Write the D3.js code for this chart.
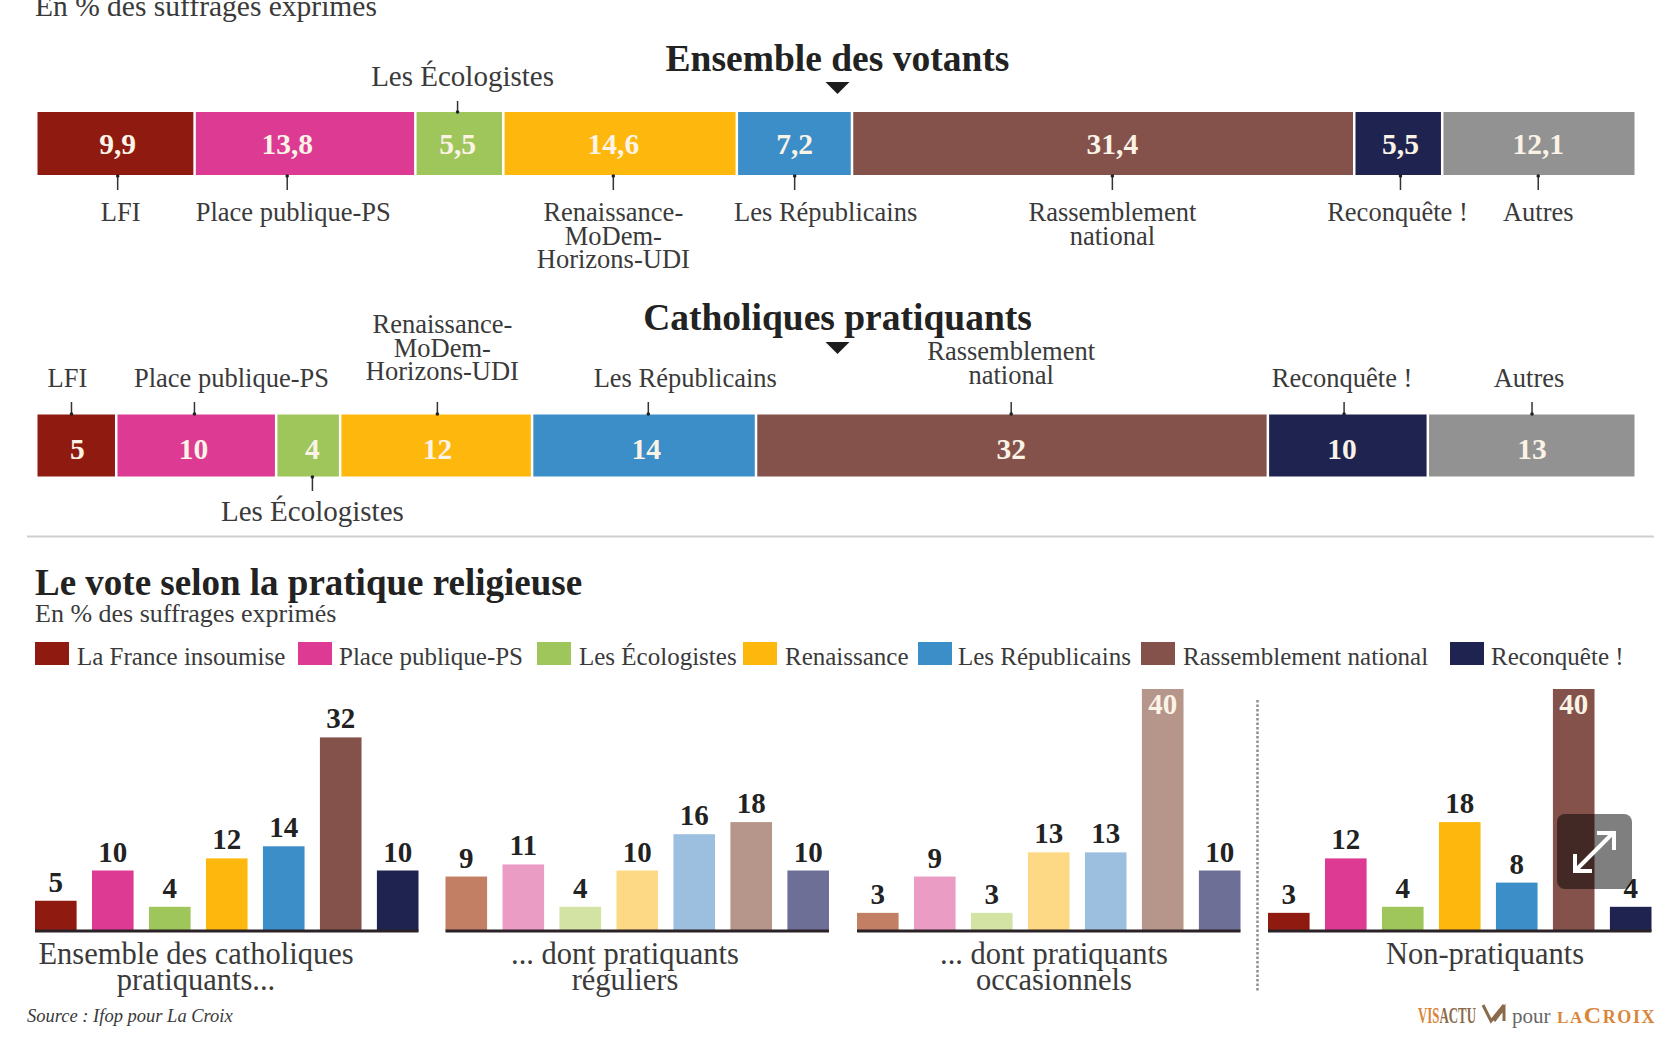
<!DOCTYPE html>
<html lang="fr">
<head>
<meta charset="utf-8">
<script src="https://cdnjs.cloudflare.com/ajax/libs/d3/7.8.5/d3.min.js"></script>
<style>
  body { margin: 0; background: #fff; }
  text { font-family: "Liberation Serif", serif; fill: #3a3a3a; }
  .title { font-weight: bold; fill: #222; }
  .value { font-weight: bold; }
</style>
</head>
<body>
<div id="chart"></div>
<script>
// data
const stackColors = ["#8f1a10", "#dc3a93", "#9fc65b", "#feb70d", "#3b8ec8", "#84524b", "#1f2350", "#929292"];
const lightColors = ["#c27f63", "#eb9cc4", "#d3e3a4", "#fdd985", "#9dbfdf", "#b6958b", "#6e6f97"];

const votantsValues = [9.9, 13.8, 5.5, 14.6, 7.2, 31.4, 5.5, 12.1];
const votantsText = ["9,9", "13,8", "5,5", "14,6", "7,2", "31,4", "5,5", "12,1"];
const catholiquesValues = [5, 10, 4, 12, 14, 32, 10, 13];

const votantsLabels = [["LFI"], ["Place publique-PS"], ["Les Écologistes"], ["Renaissance-", "MoDem-", "Horizons-UDI"],
  ["Les Républicains"], ["Rassemblement", "national"], ["Reconquête !"], ["Autres"]];
const catholiquesLabels = [["LFI"], ["Place publique-PS"], ["Les Écologistes"], ["Renaissance-", "MoDem-", "Horizons-UDI"],
  ["Les Républicains"], ["Rassemblement", "national"], ["Reconquête !"], ["Autres"]];

const legendNames = ["La France insoumise", "Place publique-PS", "Les Écologistes", "Renaissance", "Les Républicains", "Rassemblement national", "Reconquête !"];

const panelNames = [["Ensemble des catholiques", "pratiquants..."], ["... dont pratiquants", "réguliers"], ["... dont pratiquants", "occasionnels"], ["Non-pratiquants"]];
const panelEnsemble = [5, 10, 4, 12, 14, 32, 10];
const panelReguliers = [9, 11, 4, 10, 16, 18, 10];
const panelOccasionnels = [3, 9, 3, 13, 13, 40, 10];
const panelNonPratiquants = [3, 12, 4, 18, 8, 40, 4];

// layout: nudges against the segment centres, and label placement
const votantsTickShift = [1, -19, -3, -8, -1, 8, 1, -2];
const votantsLabelShift = [3, 6, 5, 0, 31, 0, -3, 0];
const votantsAbove = [false, false, true, false, false, false, false, false];
const cathValueShift = [0, -4, 3, 0, 1, -2, -7, -1];
const cathTickShift = [-6, -3, 3, 0, 3, -2, -5, -1];
const cathLabelShift = [-4, 37, 0, 5, 37, 0, -2, -3];
const cathBelow = [false, false, true, false, false, false, false, false];
const legendSquareX = [35, 298, 537, 743, 918, 1141, 1450];
const legendTextX = [77, 339, 579, 785, 958, 1183, 1491];
const panelX = [35, 445.5, 857, 1268];

const width = 1675, height = 1059;
const labelSize = 26.5;
const ecoSize = 29;

const svg = d3.select("#chart").append("svg")
    .attr("width", width)
    .attr("height", height)
    .style("display", "block");

const x = d3.scaleLinear().domain([0, 100]).range([37.5, 1637]);

function triangle(cx, top) {
  svg.append("path")
    .attr("d", `M${cx - 12},${top} H${cx + 12} L${cx},${top + 12} Z`)
    .attr("fill", "#1c1c1c");
}

function multiline(lines, cx, lastBaseline, lineHeight, size) {
  lines.forEach((line, i) => {
    svg.append("text")
      .attr("x", cx)
      .attr("y", lastBaseline - (lines.length - 1 - i) * lineHeight)
      .attr("text-anchor", "middle")
      .attr("font-size", size)
      .text(line);
  });
}

function drawStack(values, top, bottom, valueText, valueBaseline) {
  let sum = 0;
  const segs = values.map(v => {
    const s = { start: sum, end: sum + v };
    sum += v;
    return s;
  });

  const g = svg.append("g");
  g.selectAll("rect")
    .data(segs)
    .join("rect")
      .attr("x", d => x(d.start))
      .attr("y", top)
      .attr("width", d => x(d.end) - x(d.start) - 2.5)
      .attr("height", bottom - top)
      .attr("fill", (d, i) => stackColors[i]);

  g.selectAll("text")
    .data(segs)
    .join("text")
      .attr("class", "value")
      .attr("x", (d, i) => (x(d.start) + x(d.end)) / 2 + valueText.shift[i])
      .attr("y", valueBaseline)
      .attr("text-anchor", "middle")
      .attr("font-size", 29.5)
      .style("fill", "#fbf3e6")
      .text((d, i) => valueText.text[i]);

  return segs.map(d => (x(d.start) + x(d.end)) / 2);
}

function tick(cx, y0, y1) {
  svg.append("line")
    .attr("x1", cx).attr("x2", cx)
    .attr("y1", y0).attr("y2", y1)
    .attr("stroke", "#333")
    .attr("stroke-width", 1.5);
  svg.append("circle").attr("cx", cx).attr("cy", y1 > y0 ? y0 + 1 : y0 - 1).attr("r", 1.8).attr("fill", "#222");
}

// first block, top text is cut by the picture edge
svg.append("text").attr("x", 35).attr("y", 16).attr("font-size", 29.5).text("En % des suffrages exprimés");

svg.append("text").attr("class", "title").attr("x", 837.5).attr("y", 71).attr("text-anchor", "middle")
  .attr("font-size", 37.5).text("Ensemble des votants");
triangle(837.5, 82);

const centers1 = drawStack(votantsValues, 112, 175, { text: votantsText, shift: votantsTickShift }, 154);
centers1.forEach((c, i) => {
  const tx = c + votantsTickShift[i];
  if (votantsAbove[i]) {
    tick(tx, 113, 101);
    multiline(votantsLabels[i], tx + votantsLabelShift[i], 86, 23.5, ecoSize);
  } else {
    tick(tx, 175, 190);
    const lines = votantsLabels[i];
    multiline(lines, tx + votantsLabelShift[i], 221 + (lines.length - 1) * 23.5, 23.5, labelSize);
  }
});

// second block
svg.append("text").attr("class", "title").attr("x", 837.5).attr("y", 329.5).attr("text-anchor", "middle")
  .attr("font-size", 37.5).text("Catholiques pratiquants");
triangle(837.5, 342);

const centers2 = drawStack(catholiquesValues, 414.5, 476.5, {
  text: catholiquesValues.map(String),
  shift: cathValueShift
}, 459);
centers2.forEach((c, i) => {
  const tx = c + cathTickShift[i];
  if (cathBelow[i]) {
    tick(tx, 476, 491);
    multiline(catholiquesLabels[i], tx + cathLabelShift[i], 521, 23.5, ecoSize);
  } else {
    tick(tx, 415, 402);
    const lines = catholiquesLabels[i];
    const last = lines.length === 3 ? 380 : lines.length === 2 ? 383.5 : 387;
    multiline(lines, tx + cathLabelShift[i], last, 23.5, labelSize);
  }
});

svg.append("line")
  .attr("x1", 27).attr("x2", 1654)
  .attr("y1", 536.5).attr("y2", 536.5)
  .attr("stroke", "#cfcfcf")
  .attr("stroke-width", 2);

// third block
svg.append("text").attr("class", "title").attr("x", 35).attr("y", 595).attr("font-size", 37).text("Le vote selon la pratique religieuse");
svg.append("text").attr("x", 35).attr("y", 622).attr("font-size", 26).text("En % des suffrages exprimés");

legendNames.forEach((name, i) => {
  svg.append("rect")
    .attr("x", legendSquareX[i]).attr("y", 642)
    .attr("width", 34).attr("height", 23)
    .attr("fill", stackColors[i]);
  svg.append("text")
    .attr("x", legendTextX[i]).attr("y", 665)
    .attr("font-size", 25)
    .text(name);
});

const y = d3.scaleLinear().domain([0, 40]).range([931, 689]);
const panelWidth = 383.5;
const band = d3.scaleBand().domain(d3.range(7)).range([0, panelWidth]).paddingInner(0.27);

function drawPanel(values, colors, left, names, namesX) {
  const g = svg.append("g").attr("transform", `translate(${left},0)`);

  g.selectAll("rect")
    .data(values)
    .join("rect")
      .attr("x", (d, i) => band(i))
      .attr("y", d => y(d))
      .attr("width", band.bandwidth())
      .attr("height", d => y(0) - y(d))
      .attr("fill", (d, i) => colors[i]);

  g.selectAll("text.value")
    .data(values)
    .join("text")
      .attr("class", "value")
      .attr("x", (d, i) => band(i) + band.bandwidth() / 2)
      .attr("y", d => d === 40 ? y(d) + 25 : y(d) - 9)
      .attr("text-anchor", "middle")
      .attr("font-size", 29)
      .style("fill", d => d === 40 ? "#fbf3e6" : "#222")
      .text(d => d);

  g.append("line")
    .attr("x1", 0).attr("x2", panelWidth)
    .attr("y1", y(0)).attr("y2", y(0))
    .attr("stroke", "#2a2226")
    .attr("stroke-width", 3);

  const first = 964;
  multiline(names, namesX, first + (names.length - 1) * 26, 26, 30.5);
}

drawPanel(panelEnsemble, stackColors, panelX[0], panelNames[0], 196);
drawPanel(panelReguliers, lightColors, panelX[1], panelNames[1], 625);
drawPanel(panelOccasionnels, lightColors, panelX[2], panelNames[2], 1054);
drawPanel(panelNonPratiquants, stackColors, panelX[3], panelNames[3], 1485);

svg.append("line")
  .attr("x1", 1257.5).attr("x2", 1257.5)
  .attr("y1", 700).attr("y2", 991)
  .attr("stroke", "#8f8f8f")
  .attr("stroke-width", 2.5)
  .attr("stroke-dasharray", "2.5 2");

// footer
svg.append("text").attr("x", 27).attr("y", 1022).attr("font-size", 18.5).attr("font-style", "italic").text("Source : Ifop pour La Croix");

const logoOrange = "#d9863a";
const visactu = svg.append("text").attr("x", 1418).attr("y", 1023).attr("font-size", 24).attr("font-weight", "bold")
  .attr("textLength", 58).attr("lengthAdjust", "spacingAndGlyphs");
visactu.append("tspan").style("fill", logoOrange).text("VIS");
visactu.append("tspan").style("fill", "#8a6a4a").text("ACTU");
svg.append("path").attr("d", "M1483,1005 L1491,1021 L1504,1005 M1494,1021 L1504,1008 L1504,1021")
  .attr("fill", "none").attr("stroke", "#8a6a4a").attr("stroke-width", 3);
svg.append("text").attr("x", 1512).attr("y", 1023).attr("font-size", 21).style("fill", "#666").text("pour");
const croix = svg.append("text").attr("x", 1557).attr("y", 1023).attr("font-weight", "bold")
  .attr("letter-spacing", 1.6).style("fill", logoOrange);
croix.append("tspan").attr("font-size", 17).style("fill", logoOrange).text("LA");
croix.append("tspan").attr("font-size", 24).style("fill", logoOrange).text("C");
croix.append("tspan").attr("font-size", 18).style("fill", logoOrange).text("ROIX");

// the expand button sitting on the picture
svg.append("rect")
  .attr("x", 1557).attr("y", 814)
  .attr("width", 75).attr("height", 75)
  .attr("rx", 8)
  .attr("fill", "#000")
  .attr("fill-opacity", 0.5);
svg.append("path")
  .attr("d", "M1575,871 L1614,832 M1597,833 H1614 V850 M1575,854 V871 H1592")
  .attr("fill", "none")
  .attr("stroke", "#fff")
  .attr("stroke-width", 4);
</script>
</body>
</html>
